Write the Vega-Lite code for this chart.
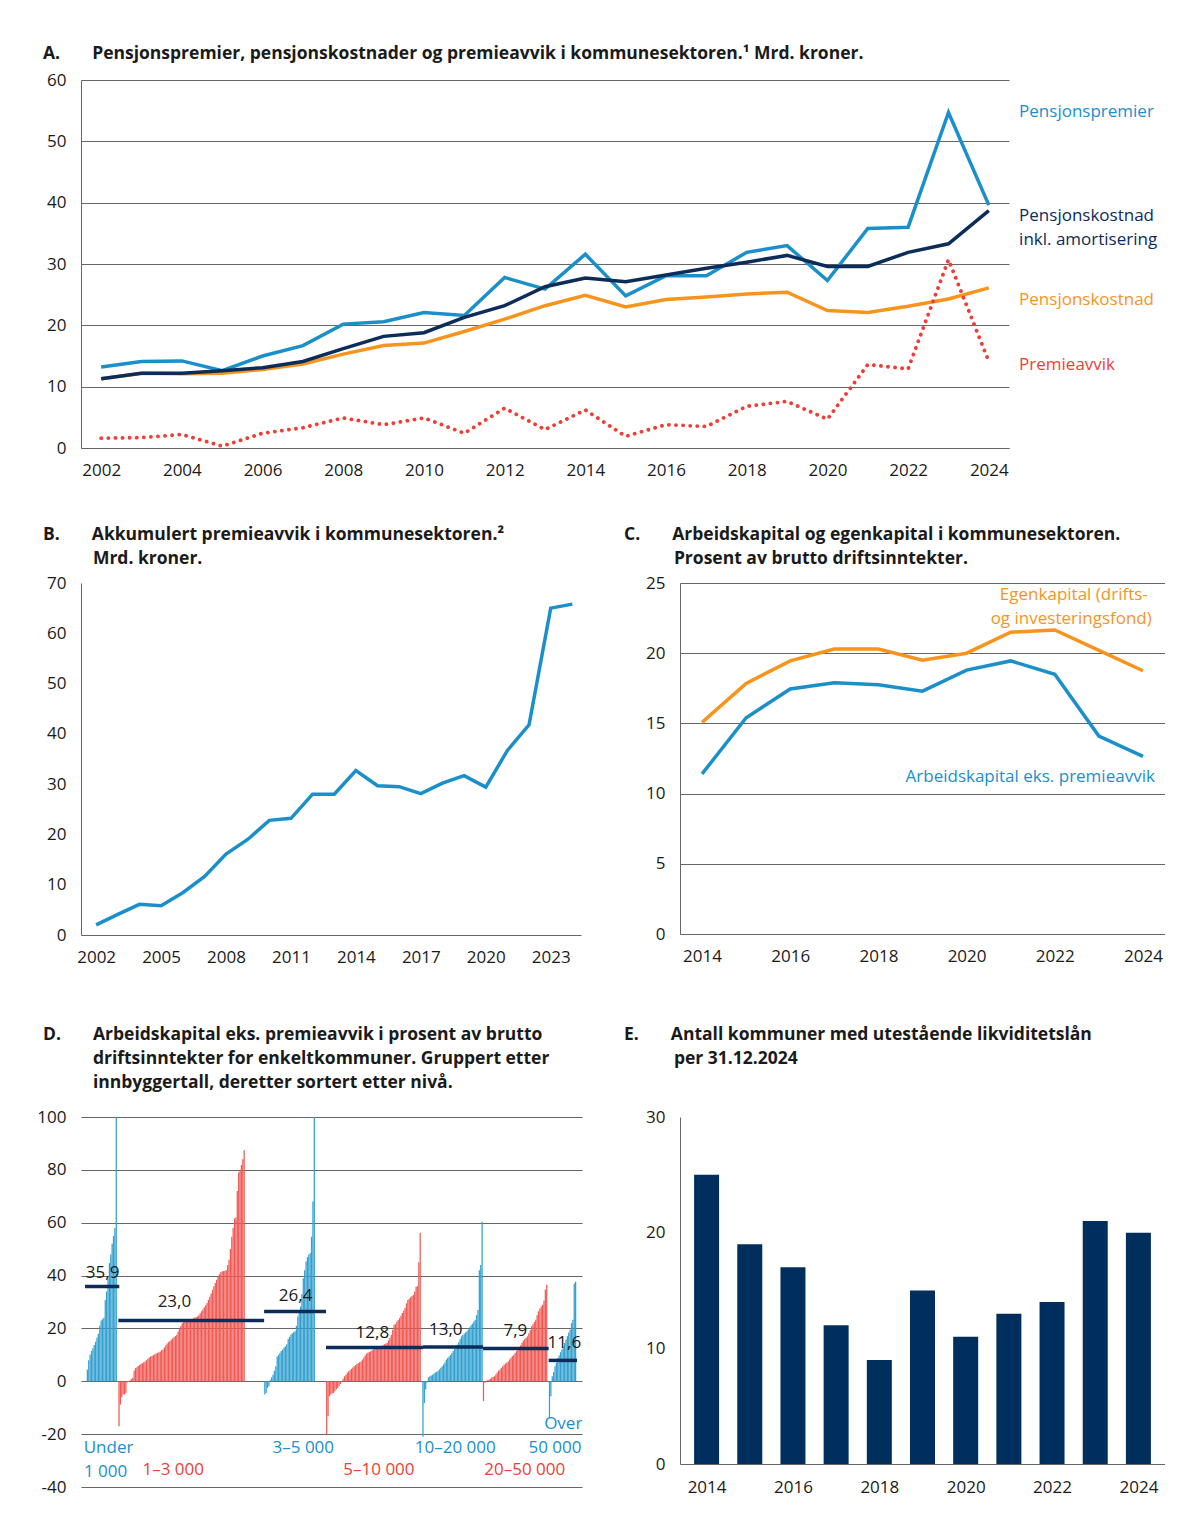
{
  "$schema": "https://vega.github.io/schema/vega-lite/v6.json",
  "background": "white",
  "padding": {"left": 36, "top": 44, "right": 0, "bottom": 20},
  "config": {
    "font": "Open Sans",
    "view": {"stroke": null},
    "axis": {"labelFont": "Open Sans", "labelFontSize": 17, "labelColor": "#1a1a1a", "ticks": false, "domainColor": "#666", "gridColor": "#666", "labelPadding": 14},
    "axisY": {"labelPadding": 15},
    "title": {"font": "Open Sans", "fontSize": 17.5, "fontWeight": "bold", "anchor": "start", "frame": "group", "color": "#1a1a1a", "lineHeight": 24},
    "text": {"font": "Open Sans", "fontSize": 17}
  },
  "datasets": {
    "kommuner": [
      {"i":1,"g":"0-1","v":4.4},{"i":2,"g":"0-1","v":8},{"i":3,"g":"0-1","v":10},{"i":4,"g":"0-1","v":11.5},{"i":5,"g":"0-1","v":12.5},{"i":6,"g":"0-1","v":13.7},{"i":7,"g":"0-1","v":15},{"i":8,"g":"0-1","v":16.5},{"i":9,"g":"0-1","v":18},{"i":10,"g":"0-1","v":21},{"i":11,"g":"0-1","v":23},{"i":12,"g":"0-1","v":23.5},{"i":13,"g":"0-1","v":24},{"i":14,"g":"0-1","v":30.8},{"i":15,"g":"0-1","v":34},{"i":16,"g":"0-1","v":39},{"i":17,"g":"0-1","v":44.7},{"i":18,"g":"0-1","v":48},{"i":19,"g":"0-1","v":52},{"i":20,"g":"0-1","v":55},{"i":21,"g":"0-1","v":58},{"i":22,"g":"0-1","v":100},
      {"i":24,"g":"1-3","v":-17},{"i":25,"g":"1-3","v":-8.8},{"i":26,"g":"1-3","v":-6},{"i":27,"g":"1-3","v":-5},{"i":28,"g":"1-3","v":-5},{"i":29,"g":"1-3","v":-4.5},{"i":30,"g":"1-3","v":-0.5},{"i":31,"g":"1-3","v":-0.3},{"i":32,"g":"1-3","v":0.3},{"i":33,"g":"1-3","v":0.8},{"i":34,"g":"1-3","v":1.3},{"i":35,"g":"1-3","v":4},{"i":36,"g":"1-3","v":5},{"i":37,"g":"1-3","v":5.3},{"i":38,"g":"1-3","v":5.8},{"i":39,"g":"1-3","v":6.3},{"i":40,"g":"1-3","v":6.5},{"i":41,"g":"1-3","v":6.8},{"i":42,"g":"1-3","v":7.2},{"i":43,"g":"1-3","v":7.5},{"i":44,"g":"1-3","v":8},{"i":45,"g":"1-3","v":8.5},{"i":46,"g":"1-3","v":9},{"i":47,"g":"1-3","v":9.4},{"i":48,"g":"1-3","v":9.6},{"i":49,"g":"1-3","v":9.9},{"i":50,"g":"1-3","v":10.2},{"i":51,"g":"1-3","v":10.5},{"i":52,"g":"1-3","v":10.7},{"i":53,"g":"1-3","v":11},{"i":54,"g":"1-3","v":11.3},{"i":55,"g":"1-3","v":11.7},{"i":56,"g":"1-3","v":12},{"i":57,"g":"1-3","v":12.8},{"i":58,"g":"1-3","v":13.6},{"i":59,"g":"1-3","v":14.3},{"i":60,"g":"1-3","v":14.8},{"i":61,"g":"1-3","v":15.2},{"i":62,"g":"1-3","v":15.7},{"i":63,"g":"1-3","v":16.2},{"i":64,"g":"1-3","v":16.7},{"i":65,"g":"1-3","v":17.1},{"i":66,"g":"1-3","v":17.6},{"i":67,"g":"1-3","v":18.8},{"i":68,"g":"1-3","v":20},{"i":69,"g":"1-3","v":21},{"i":70,"g":"1-3","v":22},{"i":71,"g":"1-3","v":22.3},{"i":72,"g":"1-3","v":22.6},{"i":73,"g":"1-3","v":22.8},{"i":74,"g":"1-3","v":23},{"i":75,"g":"1-3","v":23.2},{"i":76,"g":"1-3","v":23.3},{"i":77,"g":"1-3","v":23.6},{"i":78,"g":"1-3","v":23.8},{"i":79,"g":"1-3","v":24},{"i":80,"g":"1-3","v":24.3},{"i":81,"g":"1-3","v":24.5},{"i":82,"g":"1-3","v":25},{"i":83,"g":"1-3","v":25.7},{"i":84,"g":"1-3","v":26.5},{"i":85,"g":"1-3","v":27.2},{"i":86,"g":"1-3","v":28},{"i":87,"g":"1-3","v":28.8},{"i":88,"g":"1-3","v":29.6},{"i":89,"g":"1-3","v":30.8},{"i":90,"g":"1-3","v":32},{"i":91,"g":"1-3","v":33.2},{"i":92,"g":"1-3","v":34.6},{"i":93,"g":"1-3","v":36},{"i":94,"g":"1-3","v":37.2},{"i":95,"g":"1-3","v":38.4},{"i":96,"g":"1-3","v":39.5},{"i":97,"g":"1-3","v":40.5},{"i":98,"g":"1-3","v":41.3},{"i":99,"g":"1-3","v":41.5},{"i":100,"g":"1-3","v":41.7},{"i":101,"g":"1-3","v":41.8},{"i":102,"g":"1-3","v":42},{"i":103,"g":"1-3","v":44},{"i":104,"g":"1-3","v":46},{"i":105,"g":"1-3","v":50},{"i":106,"g":"1-3","v":54.7},{"i":107,"g":"1-3","v":58},{"i":108,"g":"1-3","v":61.6},{"i":109,"g":"1-3","v":62},{"i":110,"g":"1-3","v":72},{"i":111,"g":"1-3","v":79},{"i":112,"g":"1-3","v":80},{"i":113,"g":"1-3","v":81.8},{"i":114,"g":"1-3","v":84},{"i":115,"g":"1-3","v":87.4},
      {"i":130,"g":"3-5","v":-5},{"i":131,"g":"3-5","v":-4.4},{"i":132,"g":"3-5","v":-2.5},{"i":133,"g":"3-5","v":-1.9},{"i":134,"g":"3-5","v":0.5},{"i":135,"g":"3-5","v":1.5},{"i":136,"g":"3-5","v":2.5},{"i":137,"g":"3-5","v":4},{"i":138,"g":"3-5","v":5.7},{"i":139,"g":"3-5","v":9.4},{"i":140,"g":"3-5","v":10},{"i":141,"g":"3-5","v":10.8},{"i":142,"g":"3-5","v":11.5},{"i":143,"g":"3-5","v":12},{"i":144,"g":"3-5","v":12.8},{"i":145,"g":"3-5","v":13.2},{"i":146,"g":"3-5","v":14},{"i":147,"g":"3-5","v":16},{"i":148,"g":"3-5","v":16.8},{"i":149,"g":"3-5","v":17.6},{"i":150,"g":"3-5","v":18.2},{"i":151,"g":"3-5","v":18.6},{"i":152,"g":"3-5","v":18.9},{"i":153,"g":"3-5","v":21},{"i":154,"g":"3-5","v":24.5},{"i":155,"g":"3-5","v":26.5},{"i":156,"g":"3-5","v":28.3},{"i":157,"g":"3-5","v":33},{"i":158,"g":"3-5","v":39},{"i":159,"g":"3-5","v":42},{"i":160,"g":"3-5","v":45.3},{"i":161,"g":"3-5","v":47},{"i":162,"g":"3-5","v":48},{"i":163,"g":"3-5","v":48.4},{"i":164,"g":"3-5","v":54.7},{"i":165,"g":"3-5","v":68},{"i":166,"g":"3-5","v":100},
      {"i":175,"g":"5-10","v":-20},{"i":176,"g":"5-10","v":-13.2},{"i":177,"g":"5-10","v":-5.7},{"i":178,"g":"5-10","v":-5},{"i":179,"g":"5-10","v":-4.6},{"i":180,"g":"5-10","v":-4.4},{"i":181,"g":"5-10","v":-3.8},{"i":182,"g":"5-10","v":-3},{"i":183,"g":"5-10","v":-2.5},{"i":184,"g":"5-10","v":-1.8},{"i":185,"g":"5-10","v":-1},{"i":186,"g":"5-10","v":-0.2},{"i":187,"g":"5-10","v":1},{"i":188,"g":"5-10","v":1.9},{"i":189,"g":"5-10","v":2.5},{"i":190,"g":"5-10","v":3.2},{"i":191,"g":"5-10","v":3.8},{"i":192,"g":"5-10","v":4.2},{"i":193,"g":"5-10","v":4.7},{"i":194,"g":"5-10","v":5.2},{"i":195,"g":"5-10","v":5.7},{"i":196,"g":"5-10","v":6.1},{"i":197,"g":"5-10","v":6.5},{"i":198,"g":"5-10","v":6.8},{"i":199,"g":"5-10","v":7.2},{"i":200,"g":"5-10","v":7.5},{"i":201,"g":"5-10","v":8.2},{"i":202,"g":"5-10","v":9},{"i":203,"g":"5-10","v":9.8},{"i":204,"g":"5-10","v":10.5},{"i":205,"g":"5-10","v":10.8},{"i":206,"g":"5-10","v":11.1},{"i":207,"g":"5-10","v":11.4},{"i":208,"g":"5-10","v":11.7},{"i":209,"g":"5-10","v":12},{"i":210,"g":"5-10","v":12.2},{"i":211,"g":"5-10","v":12.4},{"i":212,"g":"5-10","v":12.6},{"i":213,"g":"5-10","v":12.8},{"i":214,"g":"5-10","v":13},{"i":215,"g":"5-10","v":13.2},{"i":216,"g":"5-10","v":13.6},{"i":217,"g":"5-10","v":14},{"i":218,"g":"5-10","v":14.3},{"i":219,"g":"5-10","v":14.5},{"i":220,"g":"5-10","v":15.5},{"i":221,"g":"5-10","v":16.5},{"i":222,"g":"5-10","v":17.6},{"i":223,"g":"5-10","v":19.5},{"i":224,"g":"5-10","v":21.4},{"i":225,"g":"5-10","v":21.6},{"i":226,"g":"5-10","v":22.5},{"i":227,"g":"5-10","v":23.2},{"i":228,"g":"5-10","v":23.9},{"i":229,"g":"5-10","v":24.8},{"i":230,"g":"5-10","v":25.8},{"i":231,"g":"5-10","v":26.8},{"i":232,"g":"5-10","v":27.7},{"i":233,"g":"5-10","v":29.5},{"i":234,"g":"5-10","v":30.8},{"i":235,"g":"5-10","v":31.2},{"i":236,"g":"5-10","v":31.8},{"i":237,"g":"5-10","v":32.3},{"i":238,"g":"5-10","v":32.7},{"i":239,"g":"5-10","v":34},{"i":240,"g":"5-10","v":35.8},{"i":241,"g":"5-10","v":36},{"i":242,"g":"5-10","v":45},{"i":243,"g":"5-10","v":56.2},
      {"i":245,"g":"10-20","v":-21},{"i":246,"g":"10-20","v":-8.2},{"i":247,"g":"10-20","v":-3.1},{"i":248,"g":"10-20","v":-0.5},{"i":249,"g":"10-20","v":1.5},{"i":250,"g":"10-20","v":1.9},{"i":251,"g":"10-20","v":2.2},{"i":252,"g":"10-20","v":2.5},{"i":253,"g":"10-20","v":2.9},{"i":254,"g":"10-20","v":3.3},{"i":255,"g":"10-20","v":3.6},{"i":256,"g":"10-20","v":3.9},{"i":257,"g":"10-20","v":4.5},{"i":258,"g":"10-20","v":5.1},{"i":259,"g":"10-20","v":5.7},{"i":260,"g":"10-20","v":6.4},{"i":261,"g":"10-20","v":7.2},{"i":262,"g":"10-20","v":8.2},{"i":263,"g":"10-20","v":8.8},{"i":264,"g":"10-20","v":9.4},{"i":265,"g":"10-20","v":10},{"i":266,"g":"10-20","v":10.7},{"i":267,"g":"10-20","v":11.5},{"i":268,"g":"10-20","v":12.3},{"i":269,"g":"10-20","v":13},{"i":270,"g":"10-20","v":13.8},{"i":271,"g":"10-20","v":14.8},{"i":272,"g":"10-20","v":15.9},{"i":273,"g":"10-20","v":17},{"i":274,"g":"10-20","v":17.5},{"i":275,"g":"10-20","v":18},{"i":276,"g":"10-20","v":18.5},{"i":277,"g":"10-20","v":18.9},{"i":278,"g":"10-20","v":19.6},{"i":279,"g":"10-20","v":20.4},{"i":280,"g":"10-20","v":21.2},{"i":281,"g":"10-20","v":21.8},{"i":282,"g":"10-20","v":22.6},{"i":283,"g":"10-20","v":23.3},{"i":284,"g":"10-20","v":25},{"i":285,"g":"10-20","v":27},{"i":286,"g":"10-20","v":42},{"i":287,"g":"10-20","v":44},{"i":288,"g":"10-20","v":60.4},
      {"i":289,"g":"20-50","v":-7.5},{"i":290,"g":"20-50","v":-0.6},{"i":291,"g":"20-50","v":0.2},{"i":292,"g":"20-50","v":0.4},{"i":293,"g":"20-50","v":0.6},{"i":294,"g":"20-50","v":1},{"i":295,"g":"20-50","v":1.4},{"i":296,"g":"20-50","v":1.7},{"i":297,"g":"20-50","v":1.9},{"i":298,"g":"20-50","v":2.6},{"i":299,"g":"20-50","v":3.3},{"i":300,"g":"20-50","v":4},{"i":301,"g":"20-50","v":4.4},{"i":302,"g":"20-50","v":5},{"i":303,"g":"20-50","v":5.7},{"i":304,"g":"20-50","v":6.3},{"i":305,"g":"20-50","v":6.7},{"i":306,"g":"20-50","v":7.1},{"i":307,"g":"20-50","v":7.5},{"i":308,"g":"20-50","v":8.2},{"i":309,"g":"20-50","v":8.9},{"i":310,"g":"20-50","v":9.5},{"i":311,"g":"20-50","v":10},{"i":312,"g":"20-50","v":10.7},{"i":313,"g":"20-50","v":11.4},{"i":314,"g":"20-50","v":12},{"i":315,"g":"20-50","v":12.6},{"i":316,"g":"20-50","v":13.6},{"i":317,"g":"20-50","v":14.5},{"i":318,"g":"20-50","v":15.3},{"i":319,"g":"20-50","v":16},{"i":320,"g":"20-50","v":16.5},{"i":321,"g":"20-50","v":17},{"i":322,"g":"20-50","v":18.2},{"i":323,"g":"20-50","v":19.4},{"i":324,"g":"20-50","v":20.8},{"i":325,"g":"20-50","v":21.6},{"i":326,"g":"20-50","v":22.4},{"i":327,"g":"20-50","v":23.3},{"i":328,"g":"20-50","v":25},{"i":329,"g":"20-50","v":26.5},{"i":330,"g":"20-50","v":27.5},{"i":331,"g":"20-50","v":28.3},{"i":332,"g":"20-50","v":29},{"i":333,"g":"20-50","v":30.5},{"i":334,"g":"20-50","v":34.6},{"i":335,"g":"20-50","v":36.5},
      {"i":337,"g":"50+","v":-13.8},{"i":338,"g":"50+","v":-5.7},{"i":339,"g":"50+","v":1.9},{"i":340,"g":"50+","v":3.5},{"i":341,"g":"50+","v":5.7},{"i":342,"g":"50+","v":7},{"i":343,"g":"50+","v":8.8},{"i":344,"g":"50+","v":9.8},{"i":345,"g":"50+","v":11},{"i":346,"g":"50+","v":12},{"i":347,"g":"50+","v":13.2},{"i":348,"g":"50+","v":14.5},{"i":349,"g":"50+","v":15.7},{"i":350,"g":"50+","v":17},{"i":351,"g":"50+","v":18.5},{"i":352,"g":"50+","v":19.5},{"i":353,"g":"50+","v":22},{"i":354,"g":"50+","v":23.3},{"i":355,"g":"50+","v":37},{"i":356,"g":"50+","v":37.7}
    ],
    "snitt": [
      {"g":"0-1","fra":-0.7,"til":24.2,"snitt":35.9},
      {"g":"1-3","fra":23.5,"til":129.5,"snitt":23.0},
      {"g":"3-5","fra":129.5,"til":174.5,"snitt":26.4},
      {"g":"5-10","fra":174.5,"til":245,"snitt":12.8},
      {"g":"10-20","fra":245,"til":288.7,"snitt":13.0},
      {"g":"20-50","fra":288.7,"til":336.4,"snitt":12.4},
      {"g":"50+","fra":336.4,"til":357,"snitt":7.9}
    ],
    "snittetiketter": [
      {"tekst":"35,9","x":12.1,"y":41},
      {"tekst":"23,0","x":64.3,"y":30.1},
      {"tekst":"26,4","x":152.4,"y":32.3},
      {"tekst":"12,8","x":208.2,"y":18.4},
      {"tekst":"13,0","x":261.6,"y":19.4},
      {"tekst":"7,9","x":312.2,"y":19.2},
      {"tekst":"11,6","x":347.8,"y":14.6}
    ],
    "grupper": [
      {"tekst":"Under","g":"0-1","x":16.4,"y":-25.3},
      {"tekst":"1 000","g":"0-1","x":14.2,"y":-34.4},
      {"tekst":"1–3 000","g":"1-3","x":63.4,"y":-33.6},
      {"tekst":"3–5 000","g":"3-5","x":158,"y":-25.3},
      {"tekst":"5–10 000","g":"5-10","x":213,"y":-33.6},
      {"tekst":"10–20 000","g":"10-20","x":268.5,"y":-25.3},
      {"tekst":"20–50 000","g":"20-50","x":319,"y":-33.6},
      {"tekst":"Over","g":"50+","x":347,"y":-16.3},
      {"tekst":"50 000","g":"50+","x":341,"y":-25.3}
    ]
  },
  "spacing": 47,
  "vconcat": [
    {
      "width": 928,
      "height": 368,
      "title": {"text": "A.\u2003\u2002\u2004Pensjonspremier, pensjonskostnader og premieavvik i kommunesektoren.¹ Mrd. kroner.", "dx": -38, "offset": 9},
      "data": {"values": [
        {"aar":2002,"premier":13.2,"amort":11.3,"kostnad":11.3,"avvik":1.6},
        {"aar":2003,"premier":14.1,"amort":12.2,"kostnad":12.2,"avvik":1.7},
        {"aar":2004,"premier":14.2,"amort":12.2,"kostnad":12.1,"avvik":2.2},
        {"aar":2005,"premier":12.6,"amort":12.6,"kostnad":12.2,"avvik":0.3},
        {"aar":2006,"premier":15.0,"amort":13.1,"kostnad":12.8,"avvik":2.4},
        {"aar":2007,"premier":16.7,"amort":14.1,"kostnad":13.7,"avvik":3.3},
        {"aar":2008,"premier":20.2,"amort":16.2,"kostnad":15.3,"avvik":4.9},
        {"aar":2009,"premier":20.6,"amort":18.2,"kostnad":16.7,"avvik":3.8},
        {"aar":2010,"premier":22.1,"amort":18.8,"kostnad":17.1,"avvik":4.9},
        {"aar":2011,"premier":21.6,"amort":21.3,"kostnad":19.0,"avvik":2.4},
        {"aar":2012,"premier":27.8,"amort":23.2,"kostnad":21.0,"avvik":6.5},
        {"aar":2013,"premier":25.9,"amort":26.3,"kostnad":23.2,"avvik":3.0},
        {"aar":2014,"premier":31.6,"amort":27.7,"kostnad":24.9,"avvik":6.2},
        {"aar":2015,"premier":24.8,"amort":27.1,"kostnad":23.0,"avvik":1.9},
        {"aar":2016,"premier":28.1,"amort":28.2,"kostnad":24.2,"avvik":3.8},
        {"aar":2017,"premier":28.1,"amort":29.3,"kostnad":24.6,"avvik":3.5},
        {"aar":2018,"premier":31.9,"amort":30.3,"kostnad":25.1,"avvik":6.8},
        {"aar":2019,"premier":33.0,"amort":31.4,"kostnad":25.4,"avvik":7.6},
        {"aar":2020,"premier":27.3,"amort":29.6,"kostnad":22.4,"avvik":4.7},
        {"aar":2021,"premier":35.8,"amort":29.6,"kostnad":22.1,"avvik":13.6},
        {"aar":2022,"premier":36.0,"amort":31.9,"kostnad":23.1,"avvik":12.9},
        {"aar":2023,"premier":54.7,"amort":33.3,"kostnad":24.3,"avvik":30.7},
        {"aar":2024,"premier":39.6,"amort":38.7,"kostnad":26.1,"avvik":14.1}
      ]},
      "encoding": {
        "x": {"field": "aar", "type": "quantitative", "scale": {"domain": [2001.5, 2024.5], "nice": false},
              "axis": {"values": [2002,2004,2006,2008,2010,2012,2014,2016,2018,2020,2022,2024], "format": "d", "grid": false, "title": null}}
      },
      "layer": [
        {
          "transform": [{"fold": ["kostnad", "premier", "amort"], "as": ["serie", "verdi"]}],
          "mark": {"type": "line", "strokeWidth": 3.5},
          "encoding": {
            "y": {"field": "verdi", "type": "quantitative", "scale": {"domain": [0, 60], "nice": false},
                  "axis": {"values": [0,10,20,30,40,50,60], "grid": true, "title": null}},
            "color": {"field": "serie", "type": "nominal", "legend": null,
                      "scale": {"domain": ["kostnad","premier","amort","avvik"], "range": ["#f7941d","#1a8fc9","#0c2c5a","#ef3e36"]}}
          }
        },
        {
          "mark": {"type": "line", "strokeWidth": 3.8, "strokeDash": [0.1, 7], "strokeCap": "round", "color": "#ef3e36"},
          "encoding": {"y": {"field": "avvik", "type": "quantitative"}}
        },
        {
          "data": {"values": [
            {"tekst":"Pensjonspremier","serie":"premier","x":2024.75,"y":54.8},
            {"tekst":"Pensjonskostnad","serie":"amort","x":2024.75,"y":37.8},
            {"tekst":"inkl. amortisering","serie":"amort","x":2024.75,"y":33.9},
            {"tekst":"Pensjonskostnad","serie":"kostnad","x":2024.75,"y":24.1},
            {"tekst":"Premieavvik","serie":"avvik","x":2024.75,"y":13.5}
          ]},
          "mark": {"type": "text", "align": "left", "baseline": "middle"},
          "encoding": {
            "x": {"field": "x", "type": "quantitative"},
            "y": {"field": "y", "type": "quantitative"},
            "text": {"field": "tekst"},
            "color": {"field": "serie", "type": "nominal", "legend": null}
          }
        }
      ]
    },
    {
      "spacing": 60,
      "vconcat": [
        {
          "spacing": 43,
          "hconcat": [
            {
              "width": 500,
              "height": 352,
              "title": {"text": ["B.\u2003\u2002\u2004Akkumulert premieavvik i kommunesektoren.²", "\u200b\u2003\u2003\u2004\u2005\u2006\u200aMrd. kroner."], "dx": -38, "offset": 7},
              "data": {"values": [
                {"aar":2002,"v":2.0},{"aar":2003,"v":4.1},{"aar":2004,"v":6.1},{"aar":2005,"v":5.8},
                {"aar":2006,"v":8.4},{"aar":2007,"v":11.6},{"aar":2008,"v":16.1},{"aar":2009,"v":19.0},
                {"aar":2010,"v":22.8},{"aar":2011,"v":23.2},{"aar":2012,"v":28.0},{"aar":2013,"v":28.0},
                {"aar":2014,"v":32.7},{"aar":2015,"v":29.7},{"aar":2016,"v":29.5},{"aar":2017,"v":28.1},
                {"aar":2018,"v":30.2},{"aar":2019,"v":31.7},{"aar":2020,"v":29.4},{"aar":2021,"v":36.7},
                {"aar":2022,"v":41.8},{"aar":2023,"v":65.0},{"aar":2024,"v":65.8}
              ]},
              "mark": {"type": "line", "strokeWidth": 3.5, "color": "#1a8fc9"},
              "encoding": {
                "x": {"field": "aar", "type": "quantitative", "scale": {"domain": [2001.3, 2024.4], "nice": false},
                      "axis": {"values": [2002,2005,2008,2011,2014,2017,2020,2023], "format": "d", "grid": false, "title": null}},
                "y": {"field": "v", "type": "quantitative", "scale": {"domain": [0, 70], "nice": false},
                      "axis": {"values": [0,10,20,30,40,50,60,70], "grid": false, "title": null}}
              }
            },
            {
              "width": 485,
              "height": 351,
              "title": {"text": ["C.\u2003\u2002\u2004Arbeidskapital og egenkapital i kommunesektoren.", "\u200b\u2003\u2003\u2004\u2005\u2006\u200aProsent av brutto driftsinntekter."], "dx": -56, "offset": 7},
              "data": {"values": [
                {"aar":2014,"egen":15.07,"arb":11.4},{"aar":2015,"egen":17.85,"arb":15.4},
                {"aar":2016,"egen":19.45,"arb":17.45},{"aar":2017,"egen":20.3,"arb":17.9},
                {"aar":2018,"egen":20.3,"arb":17.75},{"aar":2019,"egen":19.5,"arb":17.3},
                {"aar":2020,"egen":20.0,"arb":18.8},{"aar":2021,"egen":21.5,"arb":19.45},
                {"aar":2022,"egen":21.65,"arb":18.5},{"aar":2023,"egen":20.2,"arb":14.1},
                {"aar":2024,"egen":18.75,"arb":12.65}
              ]},
              "encoding": {
                "x": {"field": "aar", "type": "quantitative", "scale": {"domain": [2013.5, 2024.5], "nice": false},
                      "axis": {"values": [2014,2016,2018,2020,2022,2024], "format": "d", "grid": false, "title": null}}
              },
              "layer": [
                {
                  "transform": [{"fold": ["egen", "arb"], "as": ["serie", "verdi"]}],
                  "mark": {"type": "line", "strokeWidth": 3.5},
                  "encoding": {
                    "y": {"field": "verdi", "type": "quantitative", "scale": {"domain": [0, 25], "nice": false},
                          "axis": {"values": [0,5,10,15,20,25], "grid": true, "title": null}},
                    "color": {"field": "serie", "type": "nominal", "legend": null,
                              "scale": {"domain": ["egen","arb"], "range": ["#f7941d","#1a8fc9"]}}
                  }
                },
                {
                  "data": {"values": [
                    {"tekst":"Egenkapital (drifts-","serie":"egen","x":2024.11,"y":24.15},
                    {"tekst":"og investeringsfond)","serie":"egen","x":2024.2,"y":22.45},
                    {"tekst":"Arbeidskapital eks. premieavvik","serie":"arb","x":2024.27,"y":11.2}
                  ]},
                  "mark": {"type": "text", "align": "right", "baseline": "middle"},
                  "encoding": {
                    "x": {"field": "x", "type": "quantitative"},
                    "y": {"field": "y", "type": "quantitative"},
                    "text": {"field": "tekst"},
                    "color": {"field": "serie", "type": "nominal", "legend": null}
                  }
                }
              ]
            }
          ]
        },
        {
          "spacing": 41,
          "hconcat": [
            {
              "width": 501,
              "height": 370,
              "title": {"text": ["D.\u2003\u2002\u2004Arbeidskapital eks. premieavvik i prosent av brutto", "\u200b\u2003\u2003\u2004\u2005\u2006\u200adriftsinntekter for enkeltkommuner. Gruppert etter", "\u200b\u2003\u2003\u2004\u2005\u2006\u200ainnbyggertall, deretter sortert etter nivå."], "dx": -38, "offset": 17},
              "layer": [
                {
                  "data": {"name": "kommuner"},
                  "mark": {"type": "bar", "width": 1.25},
                  "encoding": {
                    "x": {"field": "i", "type": "quantitative", "scale": {"domain": [0, 357], "nice": false}, "axis": null},
                    "y": {"field": "v", "type": "quantitative", "scale": {"domain": [-40, 100], "nice": false},
                          "axis": {"values": [-40,-20,0,20,40,60,80,100], "grid": true, "domain": false, "title": null,
                                   "labelExpr": "replace(datum.label, '\u2212', '-')"}},
                    "color": {"field": "g", "type": "nominal", "legend": null,
                              "scale": {"domain": ["0-1","1-3","3-5","5-10","10-20","20-50","50+"],
                                        "range": ["#33a0d0","#f05a55","#33a0d0","#f05a55","#33a0d0","#f05a55","#33a0d0"]}}
                  }
                },
                {
                  "data": {"name": "snitt"},
                  "mark": {"type": "rule", "strokeWidth": 3.5, "color": "#0c2c5a"},
                  "encoding": {
                    "x": {"field": "fra", "type": "quantitative"},
                    "x2": {"field": "til"},
                    "y": {"field": "snitt", "type": "quantitative"}
                  }
                },
                {
                  "data": {"name": "snittetiketter"},
                  "mark": {"type": "text", "align": "center", "baseline": "middle", "color": "#1a1a1a"},
                  "encoding": {
                    "x": {"field": "x", "type": "quantitative"},
                    "y": {"field": "y", "type": "quantitative"},
                    "text": {"field": "tekst"}
                  }
                },
                {
                  "data": {"name": "grupper"},
                  "mark": {"type": "text", "align": "center", "baseline": "middle"},
                  "encoding": {
                    "x": {"field": "x", "type": "quantitative"},
                    "y": {"field": "y", "type": "quantitative"},
                    "text": {"field": "tekst"},
                    "color": {"field": "g", "type": "nominal", "legend": null,
                              "scale": {"domain": ["0-1","1-3","3-5","5-10","10-20","20-50","50+"],
                                        "range": ["#1a8fc9","#ef3e36","#1a8fc9","#ef3e36","#1a8fc9","#ef3e36","#1a8fc9"]}}
                  }
                }
              ],
              "resolve": {"scale": {"color": "independent"}}
            },
            {
              "width": 485,
              "height": 347,
              "title": {"text": ["E.\u2003\u2002\u2004Antall kommuner med utestående likviditetslån", "\u200b\u2003\u2003\u2004\u2005\u2006\u200aper 31.12.2024"], "dx": -56, "offset": 41},
              "data": {"values": [
                {"aar":2014,"antall":25},{"aar":2015,"antall":19},{"aar":2016,"antall":17},{"aar":2017,"antall":12},
                {"aar":2018,"antall":9},{"aar":2019,"antall":15},{"aar":2020,"antall":11},{"aar":2021,"antall":13},
                {"aar":2022,"antall":14},{"aar":2023,"antall":21},{"aar":2024,"antall":20}
              ]},
              "mark": {"type": "bar", "width": 25, "color": "#002e5d"},
              "encoding": {
                "x": {"field": "aar", "type": "quantitative", "scale": {"domain": [2013.5, 2024.5], "nice": false},
                      "axis": {"values": [2014,2016,2018,2020,2022,2024], "format": "d", "grid": false, "title": null, "labelPadding": 15}},
                "y": {"field": "antall", "type": "quantitative", "scale": {"domain": [0, 30], "nice": false},
                      "axis": {"values": [0,10,20,30], "grid": false, "title": null}}
              }
            }
          ]
        }
      ]
    }
  ]
}
